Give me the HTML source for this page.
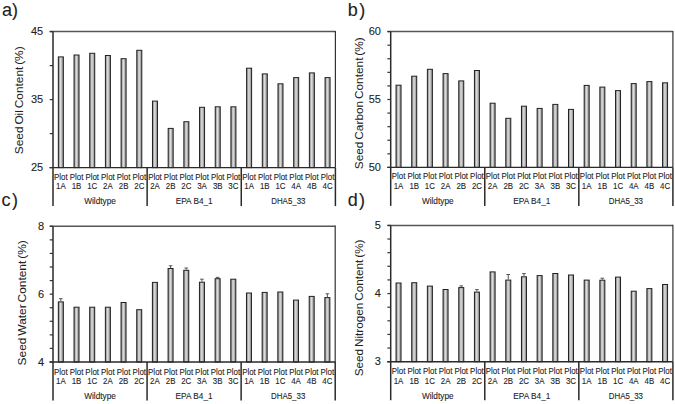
<!DOCTYPE html><html><head><meta charset="utf-8"><style>html,body{margin:0;padding:0;background:#fff;width:675px;height:404px;overflow:hidden}svg{display:block}text{font-family:"Liberation Sans", sans-serif;fill:#222;stroke:#222;stroke-width:0.1px}</style></head><body>
<svg width="675" height="404" viewBox="0 0 675 404">
<defs><linearGradient id="g" x1="0" x2="1" y1="0" y2="0"><stop offset="0" stop-color="#7a7a7a"/><stop offset="0.45" stop-color="#e0e0e0"/><stop offset="1" stop-color="#808080"/></linearGradient></defs>
<rect width="675" height="404" fill="#fff"/>
<rect x="58.34" y="56.90" width="5.00" height="110.70" fill="url(#g)" stroke="#222" stroke-width="1"/>
<rect x="74.03" y="55.00" width="5.00" height="112.60" fill="url(#g)" stroke="#222" stroke-width="1"/>
<rect x="89.72" y="53.30" width="5.00" height="114.30" fill="url(#g)" stroke="#222" stroke-width="1"/>
<rect x="105.41" y="55.50" width="5.00" height="112.10" fill="url(#g)" stroke="#222" stroke-width="1"/>
<rect x="121.10" y="58.70" width="5.00" height="108.90" fill="url(#g)" stroke="#222" stroke-width="1"/>
<rect x="136.79" y="50.30" width="5.00" height="117.30" fill="url(#g)" stroke="#222" stroke-width="1"/>
<rect x="152.48" y="101.10" width="5.00" height="66.50" fill="url(#g)" stroke="#222" stroke-width="1"/>
<rect x="168.17" y="128.40" width="5.00" height="39.20" fill="url(#g)" stroke="#222" stroke-width="1"/>
<rect x="183.86" y="121.70" width="5.00" height="45.90" fill="url(#g)" stroke="#222" stroke-width="1"/>
<rect x="199.54" y="107.30" width="5.00" height="60.30" fill="url(#g)" stroke="#222" stroke-width="1"/>
<rect x="215.23" y="106.80" width="5.00" height="60.80" fill="url(#g)" stroke="#222" stroke-width="1"/>
<rect x="230.92" y="106.80" width="5.00" height="60.80" fill="url(#g)" stroke="#222" stroke-width="1"/>
<rect x="246.61" y="68.20" width="5.00" height="99.40" fill="url(#g)" stroke="#222" stroke-width="1"/>
<rect x="262.30" y="73.90" width="5.00" height="93.70" fill="url(#g)" stroke="#222" stroke-width="1"/>
<rect x="277.99" y="83.80" width="5.00" height="83.80" fill="url(#g)" stroke="#222" stroke-width="1"/>
<rect x="293.68" y="77.60" width="5.00" height="90.00" fill="url(#g)" stroke="#222" stroke-width="1"/>
<rect x="309.37" y="72.90" width="5.00" height="94.70" fill="url(#g)" stroke="#222" stroke-width="1"/>
<rect x="325.06" y="77.60" width="5.00" height="90.00" fill="url(#g)" stroke="#222" stroke-width="1"/>
<path d="M49.70 31.60H335.40" stroke="#555" stroke-width="1.5" fill="none"/>
<path d="M335.40 30.90V167.60" stroke="#333" stroke-width="1.2" fill="none"/>
<path d="M147.13 167.60V206.10" stroke="#2a2a2a" stroke-width="1.5" fill="none"/>
<path d="M241.27 167.60V206.10" stroke="#2a2a2a" stroke-width="1.5" fill="none"/>
<path d="M335.40 167.60V206.10" stroke="#2a2a2a" stroke-width="1.5" fill="none"/>
<path d="M53.00 31.60V206.10" stroke="#2a2a2a" stroke-width="1.5" fill="none"/>
<path d="M49.50 167.60H335.40" stroke="#2a2a2a" stroke-width="1.4" fill="none"/>
<path d="M49.70 31.60H53.00" stroke="#333" stroke-width="1.2" fill="none"/>
<path d="M49.70 65.60H53.00" stroke="#333" stroke-width="1.2" fill="none"/>
<path d="M49.70 99.60H53.00" stroke="#333" stroke-width="1.2" fill="none"/>
<path d="M49.70 133.60H53.00" stroke="#333" stroke-width="1.2" fill="none"/>
<path d="M49.70 167.60H53.00" stroke="#333" stroke-width="1.2" fill="none"/>
<text x="43.20" y="35.20" font-size="11" text-anchor="end">45</text>
<text x="43.20" y="103.20" font-size="11" text-anchor="end">35</text>
<text x="43.20" y="171.20" font-size="11" text-anchor="end">25</text>
<text transform="translate(60.84 179.60) scale(0.880 1)" font-size="9.00" text-anchor="middle">Plot</text>
<text transform="translate(60.84 188.80) scale(0.880 1)" font-size="9.00" text-anchor="middle">1A</text>
<text transform="translate(76.53 179.60) scale(0.880 1)" font-size="9.00" text-anchor="middle">Plot</text>
<text transform="translate(76.53 188.80) scale(0.880 1)" font-size="9.00" text-anchor="middle">1B</text>
<text transform="translate(92.22 179.60) scale(0.880 1)" font-size="9.00" text-anchor="middle">Plot</text>
<text transform="translate(92.22 188.80) scale(0.880 1)" font-size="9.00" text-anchor="middle">1C</text>
<text transform="translate(107.91 179.60) scale(0.880 1)" font-size="9.00" text-anchor="middle">Plot</text>
<text transform="translate(107.91 188.80) scale(0.880 1)" font-size="9.00" text-anchor="middle">2A</text>
<text transform="translate(123.60 179.60) scale(0.880 1)" font-size="9.00" text-anchor="middle">Plot</text>
<text transform="translate(123.60 188.80) scale(0.880 1)" font-size="9.00" text-anchor="middle">2B</text>
<text transform="translate(139.29 179.60) scale(0.880 1)" font-size="9.00" text-anchor="middle">Plot</text>
<text transform="translate(139.29 188.80) scale(0.880 1)" font-size="9.00" text-anchor="middle">2C</text>
<text transform="translate(154.98 179.60) scale(0.880 1)" font-size="9.00" text-anchor="middle">Plot</text>
<text transform="translate(154.98 188.80) scale(0.880 1)" font-size="9.00" text-anchor="middle">2A</text>
<text transform="translate(170.67 179.60) scale(0.880 1)" font-size="9.00" text-anchor="middle">Plot</text>
<text transform="translate(170.67 188.80) scale(0.880 1)" font-size="9.00" text-anchor="middle">2B</text>
<text transform="translate(186.36 179.60) scale(0.880 1)" font-size="9.00" text-anchor="middle">Plot</text>
<text transform="translate(186.36 188.80) scale(0.880 1)" font-size="9.00" text-anchor="middle">2C</text>
<text transform="translate(202.04 179.60) scale(0.880 1)" font-size="9.00" text-anchor="middle">Plot</text>
<text transform="translate(202.04 188.80) scale(0.880 1)" font-size="9.00" text-anchor="middle">3A</text>
<text transform="translate(217.73 179.60) scale(0.880 1)" font-size="9.00" text-anchor="middle">Plot</text>
<text transform="translate(217.73 188.80) scale(0.880 1)" font-size="9.00" text-anchor="middle">3B</text>
<text transform="translate(233.42 179.60) scale(0.880 1)" font-size="9.00" text-anchor="middle">Plot</text>
<text transform="translate(233.42 188.80) scale(0.880 1)" font-size="9.00" text-anchor="middle">3C</text>
<text transform="translate(249.11 179.60) scale(0.880 1)" font-size="9.00" text-anchor="middle">Plot</text>
<text transform="translate(249.11 188.80) scale(0.880 1)" font-size="9.00" text-anchor="middle">1A</text>
<text transform="translate(264.80 179.60) scale(0.880 1)" font-size="9.00" text-anchor="middle">Plot</text>
<text transform="translate(264.80 188.80) scale(0.880 1)" font-size="9.00" text-anchor="middle">1B</text>
<text transform="translate(280.49 179.60) scale(0.880 1)" font-size="9.00" text-anchor="middle">Plot</text>
<text transform="translate(280.49 188.80) scale(0.880 1)" font-size="9.00" text-anchor="middle">1C</text>
<text transform="translate(296.18 179.60) scale(0.880 1)" font-size="9.00" text-anchor="middle">Plot</text>
<text transform="translate(296.18 188.80) scale(0.880 1)" font-size="9.00" text-anchor="middle">4A</text>
<text transform="translate(311.87 179.60) scale(0.880 1)" font-size="9.00" text-anchor="middle">Plot</text>
<text transform="translate(311.87 188.80) scale(0.880 1)" font-size="9.00" text-anchor="middle">4B</text>
<text transform="translate(327.56 179.60) scale(0.880 1)" font-size="9.00" text-anchor="middle">Plot</text>
<text transform="translate(327.56 188.80) scale(0.880 1)" font-size="9.00" text-anchor="middle">4C</text>
<text transform="translate(100.07 204.00) scale(0.920 1)" font-size="9.00" text-anchor="middle">Wildtype</text>
<text transform="translate(194.20 204.00) scale(0.920 1)" font-size="9.00" text-anchor="middle">EPA B4_1</text>
<text transform="translate(288.33 204.00) scale(0.880 1)" font-size="9.00" text-anchor="middle">DHA5_33</text>
<text transform="translate(23.00 100.30) rotate(-90)" font-size="10.30" text-anchor="middle" style="stroke-width:0.05px" word-spacing="-1.20" textLength="107.8" lengthAdjust="spacingAndGlyphs">Seed Oil Content (%)</text>
<text x="2.00" y="15.60" font-size="18">a</text>
<text x="12.00" y="15.60" font-size="18">)</text>
<rect x="396.04" y="85.20" width="5.00" height="82.20" fill="url(#g)" stroke="#222" stroke-width="1"/>
<rect x="411.72" y="76.20" width="5.00" height="91.20" fill="url(#g)" stroke="#222" stroke-width="1"/>
<rect x="427.39" y="69.30" width="5.00" height="98.10" fill="url(#g)" stroke="#222" stroke-width="1"/>
<rect x="443.07" y="73.60" width="5.00" height="93.80" fill="url(#g)" stroke="#222" stroke-width="1"/>
<rect x="458.75" y="80.90" width="5.00" height="86.50" fill="url(#g)" stroke="#222" stroke-width="1"/>
<rect x="474.43" y="70.50" width="5.00" height="96.90" fill="url(#g)" stroke="#222" stroke-width="1"/>
<rect x="490.11" y="103.20" width="5.00" height="64.20" fill="url(#g)" stroke="#222" stroke-width="1"/>
<rect x="505.78" y="118.30" width="5.00" height="49.10" fill="url(#g)" stroke="#222" stroke-width="1"/>
<rect x="521.46" y="106.20" width="5.00" height="61.20" fill="url(#g)" stroke="#222" stroke-width="1"/>
<rect x="537.14" y="108.40" width="5.00" height="59.00" fill="url(#g)" stroke="#222" stroke-width="1"/>
<rect x="552.82" y="104.40" width="5.00" height="63.00" fill="url(#g)" stroke="#222" stroke-width="1"/>
<rect x="568.49" y="109.40" width="5.00" height="58.00" fill="url(#g)" stroke="#222" stroke-width="1"/>
<rect x="584.17" y="85.40" width="5.00" height="82.00" fill="url(#g)" stroke="#222" stroke-width="1"/>
<rect x="599.85" y="87.10" width="5.00" height="80.30" fill="url(#g)" stroke="#222" stroke-width="1"/>
<rect x="615.53" y="90.60" width="5.00" height="76.80" fill="url(#g)" stroke="#222" stroke-width="1"/>
<rect x="631.21" y="83.60" width="5.00" height="83.80" fill="url(#g)" stroke="#222" stroke-width="1"/>
<rect x="646.88" y="81.60" width="5.00" height="85.80" fill="url(#g)" stroke="#222" stroke-width="1"/>
<rect x="662.56" y="82.80" width="5.00" height="84.60" fill="url(#g)" stroke="#222" stroke-width="1"/>
<path d="M387.40 31.60H672.90" stroke="#555" stroke-width="1.5" fill="none"/>
<path d="M672.90 30.90V167.40" stroke="#333" stroke-width="1.2" fill="none"/>
<path d="M484.77 167.40V205.90" stroke="#2a2a2a" stroke-width="1.5" fill="none"/>
<path d="M578.83 167.40V205.90" stroke="#2a2a2a" stroke-width="1.5" fill="none"/>
<path d="M672.90 167.40V205.90" stroke="#2a2a2a" stroke-width="1.5" fill="none"/>
<path d="M390.70 31.60V205.90" stroke="#2a2a2a" stroke-width="1.5" fill="none"/>
<path d="M387.20 167.40H672.90" stroke="#2a2a2a" stroke-width="1.4" fill="none"/>
<path d="M387.40 31.60H390.70" stroke="#333" stroke-width="1.2" fill="none"/>
<path d="M387.40 45.18H390.70" stroke="#333" stroke-width="1.2" fill="none"/>
<path d="M387.40 58.76H390.70" stroke="#333" stroke-width="1.2" fill="none"/>
<path d="M387.40 72.34H390.70" stroke="#333" stroke-width="1.2" fill="none"/>
<path d="M387.40 85.92H390.70" stroke="#333" stroke-width="1.2" fill="none"/>
<path d="M387.40 99.50H390.70" stroke="#333" stroke-width="1.2" fill="none"/>
<path d="M387.40 113.08H390.70" stroke="#333" stroke-width="1.2" fill="none"/>
<path d="M387.40 126.66H390.70" stroke="#333" stroke-width="1.2" fill="none"/>
<path d="M387.40 140.24H390.70" stroke="#333" stroke-width="1.2" fill="none"/>
<path d="M387.40 153.82H390.70" stroke="#333" stroke-width="1.2" fill="none"/>
<path d="M387.40 167.40H390.70" stroke="#333" stroke-width="1.2" fill="none"/>
<text x="380.90" y="35.20" font-size="11" text-anchor="end">60</text>
<text x="380.90" y="103.10" font-size="11" text-anchor="end">55</text>
<text x="380.90" y="171.00" font-size="11" text-anchor="end">50</text>
<text transform="translate(398.54 179.40) scale(0.880 1)" font-size="9.00" text-anchor="middle">Plot</text>
<text transform="translate(398.54 188.60) scale(0.880 1)" font-size="9.00" text-anchor="middle">1A</text>
<text transform="translate(414.22 179.40) scale(0.880 1)" font-size="9.00" text-anchor="middle">Plot</text>
<text transform="translate(414.22 188.60) scale(0.880 1)" font-size="9.00" text-anchor="middle">1B</text>
<text transform="translate(429.89 179.40) scale(0.880 1)" font-size="9.00" text-anchor="middle">Plot</text>
<text transform="translate(429.89 188.60) scale(0.880 1)" font-size="9.00" text-anchor="middle">1C</text>
<text transform="translate(445.57 179.40) scale(0.880 1)" font-size="9.00" text-anchor="middle">Plot</text>
<text transform="translate(445.57 188.60) scale(0.880 1)" font-size="9.00" text-anchor="middle">2A</text>
<text transform="translate(461.25 179.40) scale(0.880 1)" font-size="9.00" text-anchor="middle">Plot</text>
<text transform="translate(461.25 188.60) scale(0.880 1)" font-size="9.00" text-anchor="middle">2B</text>
<text transform="translate(476.93 179.40) scale(0.880 1)" font-size="9.00" text-anchor="middle">Plot</text>
<text transform="translate(476.93 188.60) scale(0.880 1)" font-size="9.00" text-anchor="middle">2C</text>
<text transform="translate(492.61 179.40) scale(0.880 1)" font-size="9.00" text-anchor="middle">Plot</text>
<text transform="translate(492.61 188.60) scale(0.880 1)" font-size="9.00" text-anchor="middle">2A</text>
<text transform="translate(508.28 179.40) scale(0.880 1)" font-size="9.00" text-anchor="middle">Plot</text>
<text transform="translate(508.28 188.60) scale(0.880 1)" font-size="9.00" text-anchor="middle">2B</text>
<text transform="translate(523.96 179.40) scale(0.880 1)" font-size="9.00" text-anchor="middle">Plot</text>
<text transform="translate(523.96 188.60) scale(0.880 1)" font-size="9.00" text-anchor="middle">2C</text>
<text transform="translate(539.64 179.40) scale(0.880 1)" font-size="9.00" text-anchor="middle">Plot</text>
<text transform="translate(539.64 188.60) scale(0.880 1)" font-size="9.00" text-anchor="middle">3A</text>
<text transform="translate(555.32 179.40) scale(0.880 1)" font-size="9.00" text-anchor="middle">Plot</text>
<text transform="translate(555.32 188.60) scale(0.880 1)" font-size="9.00" text-anchor="middle">3B</text>
<text transform="translate(570.99 179.40) scale(0.880 1)" font-size="9.00" text-anchor="middle">Plot</text>
<text transform="translate(570.99 188.60) scale(0.880 1)" font-size="9.00" text-anchor="middle">3C</text>
<text transform="translate(586.67 179.40) scale(0.880 1)" font-size="9.00" text-anchor="middle">Plot</text>
<text transform="translate(586.67 188.60) scale(0.880 1)" font-size="9.00" text-anchor="middle">1A</text>
<text transform="translate(602.35 179.40) scale(0.880 1)" font-size="9.00" text-anchor="middle">Plot</text>
<text transform="translate(602.35 188.60) scale(0.880 1)" font-size="9.00" text-anchor="middle">1B</text>
<text transform="translate(618.03 179.40) scale(0.880 1)" font-size="9.00" text-anchor="middle">Plot</text>
<text transform="translate(618.03 188.60) scale(0.880 1)" font-size="9.00" text-anchor="middle">1C</text>
<text transform="translate(633.71 179.40) scale(0.880 1)" font-size="9.00" text-anchor="middle">Plot</text>
<text transform="translate(633.71 188.60) scale(0.880 1)" font-size="9.00" text-anchor="middle">4A</text>
<text transform="translate(649.38 179.40) scale(0.880 1)" font-size="9.00" text-anchor="middle">Plot</text>
<text transform="translate(649.38 188.60) scale(0.880 1)" font-size="9.00" text-anchor="middle">4B</text>
<text transform="translate(665.06 179.40) scale(0.880 1)" font-size="9.00" text-anchor="middle">Plot</text>
<text transform="translate(665.06 188.60) scale(0.880 1)" font-size="9.00" text-anchor="middle">4C</text>
<text transform="translate(437.73 203.80) scale(0.920 1)" font-size="9.00" text-anchor="middle">Wildtype</text>
<text transform="translate(531.80 203.80) scale(0.920 1)" font-size="9.00" text-anchor="middle">EPA B4_1</text>
<text transform="translate(625.87 203.80) scale(0.880 1)" font-size="9.00" text-anchor="middle">DHA5_33</text>
<text transform="translate(363.00 103.25) rotate(-90)" font-size="10.30" text-anchor="middle" style="stroke-width:0.05px" word-spacing="-1.20" textLength="131.9" lengthAdjust="spacingAndGlyphs">Seed Carbon Content (%)</text>
<text x="347.70" y="15.60" font-size="18">b</text>
<text x="359.20" y="15.60" font-size="18">)</text>
<rect x="58.34" y="301.90" width="5.00" height="60.10" fill="url(#g)" stroke="#222" stroke-width="1"/>
<path d="M59.04 298.70H62.64M60.84 298.70V301.40" stroke="#555" stroke-width="1" fill="none"/>
<rect x="74.02" y="307.20" width="5.00" height="54.80" fill="url(#g)" stroke="#222" stroke-width="1"/>
<rect x="89.69" y="307.20" width="5.00" height="54.80" fill="url(#g)" stroke="#222" stroke-width="1"/>
<rect x="105.37" y="307.20" width="5.00" height="54.80" fill="url(#g)" stroke="#222" stroke-width="1"/>
<rect x="121.05" y="302.50" width="5.00" height="59.50" fill="url(#g)" stroke="#222" stroke-width="1"/>
<rect x="136.73" y="309.70" width="5.00" height="52.30" fill="url(#g)" stroke="#222" stroke-width="1"/>
<rect x="152.41" y="282.40" width="5.00" height="79.60" fill="url(#g)" stroke="#222" stroke-width="1"/>
<rect x="168.08" y="268.50" width="5.00" height="93.50" fill="url(#g)" stroke="#222" stroke-width="1"/>
<path d="M168.78 265.80H172.38M170.58 265.80V268.00" stroke="#555" stroke-width="1" fill="none"/>
<rect x="183.76" y="270.30" width="5.00" height="91.70" fill="url(#g)" stroke="#222" stroke-width="1"/>
<path d="M184.46 268.00H188.06M186.26 268.00V269.80" stroke="#555" stroke-width="1" fill="none"/>
<rect x="199.44" y="282.20" width="5.00" height="79.80" fill="url(#g)" stroke="#222" stroke-width="1"/>
<path d="M200.14 279.20H203.74M201.94 279.20V281.70" stroke="#555" stroke-width="1" fill="none"/>
<rect x="215.12" y="278.70" width="5.00" height="83.30" fill="url(#g)" stroke="#222" stroke-width="1"/>
<path d="M215.82 277.40H219.42M217.62 277.40V278.20" stroke="#555" stroke-width="1" fill="none"/>
<rect x="230.79" y="279.20" width="5.00" height="82.80" fill="url(#g)" stroke="#222" stroke-width="1"/>
<rect x="246.47" y="293.00" width="5.00" height="69.00" fill="url(#g)" stroke="#222" stroke-width="1"/>
<rect x="262.15" y="292.40" width="5.00" height="69.60" fill="url(#g)" stroke="#222" stroke-width="1"/>
<rect x="277.83" y="292.00" width="5.00" height="70.00" fill="url(#g)" stroke="#222" stroke-width="1"/>
<rect x="293.51" y="300.10" width="5.00" height="61.90" fill="url(#g)" stroke="#222" stroke-width="1"/>
<rect x="309.18" y="296.40" width="5.00" height="65.60" fill="url(#g)" stroke="#222" stroke-width="1"/>
<rect x="324.86" y="297.60" width="5.00" height="64.40" fill="url(#g)" stroke="#222" stroke-width="1"/>
<path d="M325.56 293.80H329.16M327.36 293.80V297.10" stroke="#555" stroke-width="1" fill="none"/>
<path d="M49.70 226.30H335.20" stroke="#555" stroke-width="1.5" fill="none"/>
<path d="M335.20 225.60V362.00" stroke="#333" stroke-width="1.2" fill="none"/>
<path d="M147.07 362.00V400.50" stroke="#2a2a2a" stroke-width="1.5" fill="none"/>
<path d="M241.13 362.00V400.50" stroke="#2a2a2a" stroke-width="1.5" fill="none"/>
<path d="M335.20 362.00V400.50" stroke="#2a2a2a" stroke-width="1.5" fill="none"/>
<path d="M53.00 226.30V400.50" stroke="#2a2a2a" stroke-width="1.5" fill="none"/>
<path d="M49.50 362.00H335.20" stroke="#2a2a2a" stroke-width="1.4" fill="none"/>
<path d="M49.70 226.30H53.00" stroke="#333" stroke-width="1.2" fill="none"/>
<path d="M49.70 239.87H53.00" stroke="#333" stroke-width="1.2" fill="none"/>
<path d="M49.70 253.44H53.00" stroke="#333" stroke-width="1.2" fill="none"/>
<path d="M49.70 267.01H53.00" stroke="#333" stroke-width="1.2" fill="none"/>
<path d="M49.70 280.58H53.00" stroke="#333" stroke-width="1.2" fill="none"/>
<path d="M49.70 294.15H53.00" stroke="#333" stroke-width="1.2" fill="none"/>
<path d="M49.70 307.72H53.00" stroke="#333" stroke-width="1.2" fill="none"/>
<path d="M49.70 321.29H53.00" stroke="#333" stroke-width="1.2" fill="none"/>
<path d="M49.70 334.86H53.00" stroke="#333" stroke-width="1.2" fill="none"/>
<path d="M49.70 348.43H53.00" stroke="#333" stroke-width="1.2" fill="none"/>
<path d="M49.70 362.00H53.00" stroke="#333" stroke-width="1.2" fill="none"/>
<text x="44.00" y="229.90" font-size="11" text-anchor="end">8</text>
<text x="44.00" y="297.75" font-size="11" text-anchor="end">6</text>
<text x="44.00" y="365.60" font-size="11" text-anchor="end">4</text>
<text transform="translate(60.84 374.60) scale(0.880 1)" font-size="9.00" text-anchor="middle">Plot</text>
<text transform="translate(60.84 383.80) scale(0.880 1)" font-size="9.00" text-anchor="middle">1A</text>
<text transform="translate(76.52 374.60) scale(0.880 1)" font-size="9.00" text-anchor="middle">Plot</text>
<text transform="translate(76.52 383.80) scale(0.880 1)" font-size="9.00" text-anchor="middle">1B</text>
<text transform="translate(92.19 374.60) scale(0.880 1)" font-size="9.00" text-anchor="middle">Plot</text>
<text transform="translate(92.19 383.80) scale(0.880 1)" font-size="9.00" text-anchor="middle">1C</text>
<text transform="translate(107.87 374.60) scale(0.880 1)" font-size="9.00" text-anchor="middle">Plot</text>
<text transform="translate(107.87 383.80) scale(0.880 1)" font-size="9.00" text-anchor="middle">2A</text>
<text transform="translate(123.55 374.60) scale(0.880 1)" font-size="9.00" text-anchor="middle">Plot</text>
<text transform="translate(123.55 383.80) scale(0.880 1)" font-size="9.00" text-anchor="middle">2B</text>
<text transform="translate(139.23 374.60) scale(0.880 1)" font-size="9.00" text-anchor="middle">Plot</text>
<text transform="translate(139.23 383.80) scale(0.880 1)" font-size="9.00" text-anchor="middle">2C</text>
<text transform="translate(154.91 374.60) scale(0.880 1)" font-size="9.00" text-anchor="middle">Plot</text>
<text transform="translate(154.91 383.80) scale(0.880 1)" font-size="9.00" text-anchor="middle">2A</text>
<text transform="translate(170.58 374.60) scale(0.880 1)" font-size="9.00" text-anchor="middle">Plot</text>
<text transform="translate(170.58 383.80) scale(0.880 1)" font-size="9.00" text-anchor="middle">2B</text>
<text transform="translate(186.26 374.60) scale(0.880 1)" font-size="9.00" text-anchor="middle">Plot</text>
<text transform="translate(186.26 383.80) scale(0.880 1)" font-size="9.00" text-anchor="middle">2C</text>
<text transform="translate(201.94 374.60) scale(0.880 1)" font-size="9.00" text-anchor="middle">Plot</text>
<text transform="translate(201.94 383.80) scale(0.880 1)" font-size="9.00" text-anchor="middle">3A</text>
<text transform="translate(217.62 374.60) scale(0.880 1)" font-size="9.00" text-anchor="middle">Plot</text>
<text transform="translate(217.62 383.80) scale(0.880 1)" font-size="9.00" text-anchor="middle">3B</text>
<text transform="translate(233.29 374.60) scale(0.880 1)" font-size="9.00" text-anchor="middle">Plot</text>
<text transform="translate(233.29 383.80) scale(0.880 1)" font-size="9.00" text-anchor="middle">3C</text>
<text transform="translate(248.97 374.60) scale(0.880 1)" font-size="9.00" text-anchor="middle">Plot</text>
<text transform="translate(248.97 383.80) scale(0.880 1)" font-size="9.00" text-anchor="middle">1A</text>
<text transform="translate(264.65 374.60) scale(0.880 1)" font-size="9.00" text-anchor="middle">Plot</text>
<text transform="translate(264.65 383.80) scale(0.880 1)" font-size="9.00" text-anchor="middle">1B</text>
<text transform="translate(280.33 374.60) scale(0.880 1)" font-size="9.00" text-anchor="middle">Plot</text>
<text transform="translate(280.33 383.80) scale(0.880 1)" font-size="9.00" text-anchor="middle">1C</text>
<text transform="translate(296.01 374.60) scale(0.880 1)" font-size="9.00" text-anchor="middle">Plot</text>
<text transform="translate(296.01 383.80) scale(0.880 1)" font-size="9.00" text-anchor="middle">4A</text>
<text transform="translate(311.68 374.60) scale(0.880 1)" font-size="9.00" text-anchor="middle">Plot</text>
<text transform="translate(311.68 383.80) scale(0.880 1)" font-size="9.00" text-anchor="middle">4B</text>
<text transform="translate(327.36 374.60) scale(0.880 1)" font-size="9.00" text-anchor="middle">Plot</text>
<text transform="translate(327.36 383.80) scale(0.880 1)" font-size="9.00" text-anchor="middle">4C</text>
<text transform="translate(100.03 399.00) scale(0.920 1)" font-size="9.00" text-anchor="middle">Wildtype</text>
<text transform="translate(194.10 399.00) scale(0.920 1)" font-size="9.00" text-anchor="middle">EPA B4_1</text>
<text transform="translate(288.17 399.00) scale(0.880 1)" font-size="9.00" text-anchor="middle">DHA5_33</text>
<text transform="translate(26.30 302.85) rotate(-90)" font-size="10.30" text-anchor="middle" style="stroke-width:0.05px" word-spacing="-1.20" textLength="125.1" lengthAdjust="spacingAndGlyphs">Seed Water Content (%)</text>
<text x="1.50" y="205.80" font-size="18">c</text>
<text x="12.00" y="205.80" font-size="18">)</text>
<rect x="396.04" y="283.00" width="5.00" height="78.70" fill="url(#g)" stroke="#222" stroke-width="1"/>
<rect x="411.72" y="282.70" width="5.00" height="79.00" fill="url(#g)" stroke="#222" stroke-width="1"/>
<rect x="427.39" y="286.10" width="5.00" height="75.60" fill="url(#g)" stroke="#222" stroke-width="1"/>
<rect x="443.07" y="289.50" width="5.00" height="72.20" fill="url(#g)" stroke="#222" stroke-width="1"/>
<rect x="458.75" y="287.60" width="5.00" height="74.10" fill="url(#g)" stroke="#222" stroke-width="1"/>
<path d="M459.45 285.90H463.05M461.25 285.90V287.10" stroke="#555" stroke-width="1" fill="none"/>
<rect x="474.43" y="292.10" width="5.00" height="69.60" fill="url(#g)" stroke="#222" stroke-width="1"/>
<path d="M475.13 289.60H478.73M476.93 289.60V291.60" stroke="#555" stroke-width="1" fill="none"/>
<rect x="490.11" y="271.90" width="5.00" height="89.80" fill="url(#g)" stroke="#222" stroke-width="1"/>
<rect x="505.78" y="280.10" width="5.00" height="81.60" fill="url(#g)" stroke="#222" stroke-width="1"/>
<path d="M506.48 274.50H510.08M508.28 274.50V279.60" stroke="#555" stroke-width="1" fill="none"/>
<rect x="521.46" y="276.80" width="5.00" height="84.90" fill="url(#g)" stroke="#222" stroke-width="1"/>
<path d="M522.16 273.60H525.76M523.96 273.60V276.30" stroke="#555" stroke-width="1" fill="none"/>
<rect x="537.14" y="275.60" width="5.00" height="86.10" fill="url(#g)" stroke="#222" stroke-width="1"/>
<rect x="552.82" y="273.50" width="5.00" height="88.20" fill="url(#g)" stroke="#222" stroke-width="1"/>
<rect x="568.49" y="275.00" width="5.00" height="86.70" fill="url(#g)" stroke="#222" stroke-width="1"/>
<rect x="584.17" y="280.10" width="5.00" height="81.60" fill="url(#g)" stroke="#222" stroke-width="1"/>
<rect x="599.85" y="280.20" width="5.00" height="81.50" fill="url(#g)" stroke="#222" stroke-width="1"/>
<path d="M600.55 278.20H604.15M602.35 278.20V279.70" stroke="#555" stroke-width="1" fill="none"/>
<rect x="615.53" y="277.10" width="5.00" height="84.60" fill="url(#g)" stroke="#222" stroke-width="1"/>
<rect x="631.21" y="291.20" width="5.00" height="70.50" fill="url(#g)" stroke="#222" stroke-width="1"/>
<rect x="646.88" y="288.60" width="5.00" height="73.10" fill="url(#g)" stroke="#222" stroke-width="1"/>
<rect x="662.56" y="284.50" width="5.00" height="77.20" fill="url(#g)" stroke="#222" stroke-width="1"/>
<path d="M387.40 225.40H672.90" stroke="#555" stroke-width="1.5" fill="none"/>
<path d="M672.90 224.70V361.70" stroke="#333" stroke-width="1.2" fill="none"/>
<path d="M484.77 361.70V400.20" stroke="#2a2a2a" stroke-width="1.5" fill="none"/>
<path d="M578.83 361.70V400.20" stroke="#2a2a2a" stroke-width="1.5" fill="none"/>
<path d="M672.90 361.70V400.20" stroke="#2a2a2a" stroke-width="1.5" fill="none"/>
<path d="M390.70 225.40V400.20" stroke="#2a2a2a" stroke-width="1.5" fill="none"/>
<path d="M387.20 361.70H672.90" stroke="#2a2a2a" stroke-width="1.4" fill="none"/>
<path d="M387.40 225.40H390.70" stroke="#333" stroke-width="1.2" fill="none"/>
<path d="M387.40 239.03H390.70" stroke="#333" stroke-width="1.2" fill="none"/>
<path d="M387.40 252.66H390.70" stroke="#333" stroke-width="1.2" fill="none"/>
<path d="M387.40 266.29H390.70" stroke="#333" stroke-width="1.2" fill="none"/>
<path d="M387.40 279.92H390.70" stroke="#333" stroke-width="1.2" fill="none"/>
<path d="M387.40 293.55H390.70" stroke="#333" stroke-width="1.2" fill="none"/>
<path d="M387.40 307.18H390.70" stroke="#333" stroke-width="1.2" fill="none"/>
<path d="M387.40 320.81H390.70" stroke="#333" stroke-width="1.2" fill="none"/>
<path d="M387.40 334.44H390.70" stroke="#333" stroke-width="1.2" fill="none"/>
<path d="M387.40 348.07H390.70" stroke="#333" stroke-width="1.2" fill="none"/>
<path d="M387.40 361.70H390.70" stroke="#333" stroke-width="1.2" fill="none"/>
<text x="380.90" y="229.00" font-size="11" text-anchor="end">5</text>
<text x="380.90" y="297.15" font-size="11" text-anchor="end">4</text>
<text x="380.90" y="365.30" font-size="11" text-anchor="end">3</text>
<text transform="translate(398.54 374.30) scale(0.880 1)" font-size="9.00" text-anchor="middle">Plot</text>
<text transform="translate(398.54 383.50) scale(0.880 1)" font-size="9.00" text-anchor="middle">1A</text>
<text transform="translate(414.22 374.30) scale(0.880 1)" font-size="9.00" text-anchor="middle">Plot</text>
<text transform="translate(414.22 383.50) scale(0.880 1)" font-size="9.00" text-anchor="middle">1B</text>
<text transform="translate(429.89 374.30) scale(0.880 1)" font-size="9.00" text-anchor="middle">Plot</text>
<text transform="translate(429.89 383.50) scale(0.880 1)" font-size="9.00" text-anchor="middle">1C</text>
<text transform="translate(445.57 374.30) scale(0.880 1)" font-size="9.00" text-anchor="middle">Plot</text>
<text transform="translate(445.57 383.50) scale(0.880 1)" font-size="9.00" text-anchor="middle">2A</text>
<text transform="translate(461.25 374.30) scale(0.880 1)" font-size="9.00" text-anchor="middle">Plot</text>
<text transform="translate(461.25 383.50) scale(0.880 1)" font-size="9.00" text-anchor="middle">2B</text>
<text transform="translate(476.93 374.30) scale(0.880 1)" font-size="9.00" text-anchor="middle">Plot</text>
<text transform="translate(476.93 383.50) scale(0.880 1)" font-size="9.00" text-anchor="middle">2C</text>
<text transform="translate(492.61 374.30) scale(0.880 1)" font-size="9.00" text-anchor="middle">Plot</text>
<text transform="translate(492.61 383.50) scale(0.880 1)" font-size="9.00" text-anchor="middle">2A</text>
<text transform="translate(508.28 374.30) scale(0.880 1)" font-size="9.00" text-anchor="middle">Plot</text>
<text transform="translate(508.28 383.50) scale(0.880 1)" font-size="9.00" text-anchor="middle">2B</text>
<text transform="translate(523.96 374.30) scale(0.880 1)" font-size="9.00" text-anchor="middle">Plot</text>
<text transform="translate(523.96 383.50) scale(0.880 1)" font-size="9.00" text-anchor="middle">2C</text>
<text transform="translate(539.64 374.30) scale(0.880 1)" font-size="9.00" text-anchor="middle">Plot</text>
<text transform="translate(539.64 383.50) scale(0.880 1)" font-size="9.00" text-anchor="middle">3A</text>
<text transform="translate(555.32 374.30) scale(0.880 1)" font-size="9.00" text-anchor="middle">Plot</text>
<text transform="translate(555.32 383.50) scale(0.880 1)" font-size="9.00" text-anchor="middle">3B</text>
<text transform="translate(570.99 374.30) scale(0.880 1)" font-size="9.00" text-anchor="middle">Plot</text>
<text transform="translate(570.99 383.50) scale(0.880 1)" font-size="9.00" text-anchor="middle">3C</text>
<text transform="translate(586.67 374.30) scale(0.880 1)" font-size="9.00" text-anchor="middle">Plot</text>
<text transform="translate(586.67 383.50) scale(0.880 1)" font-size="9.00" text-anchor="middle">1A</text>
<text transform="translate(602.35 374.30) scale(0.880 1)" font-size="9.00" text-anchor="middle">Plot</text>
<text transform="translate(602.35 383.50) scale(0.880 1)" font-size="9.00" text-anchor="middle">1B</text>
<text transform="translate(618.03 374.30) scale(0.880 1)" font-size="9.00" text-anchor="middle">Plot</text>
<text transform="translate(618.03 383.50) scale(0.880 1)" font-size="9.00" text-anchor="middle">1C</text>
<text transform="translate(633.71 374.30) scale(0.880 1)" font-size="9.00" text-anchor="middle">Plot</text>
<text transform="translate(633.71 383.50) scale(0.880 1)" font-size="9.00" text-anchor="middle">4A</text>
<text transform="translate(649.38 374.30) scale(0.880 1)" font-size="9.00" text-anchor="middle">Plot</text>
<text transform="translate(649.38 383.50) scale(0.880 1)" font-size="9.00" text-anchor="middle">4B</text>
<text transform="translate(665.06 374.30) scale(0.880 1)" font-size="9.00" text-anchor="middle">Plot</text>
<text transform="translate(665.06 383.50) scale(0.880 1)" font-size="9.00" text-anchor="middle">4C</text>
<text transform="translate(437.73 398.70) scale(0.920 1)" font-size="9.00" text-anchor="middle">Wildtype</text>
<text transform="translate(531.80 398.70) scale(0.920 1)" font-size="9.00" text-anchor="middle">EPA B4_1</text>
<text transform="translate(625.87 398.70) scale(0.880 1)" font-size="9.00" text-anchor="middle">DHA5_33</text>
<text transform="translate(363.00 307.90) rotate(-90)" font-size="10.30" text-anchor="middle" style="stroke-width:0.05px" word-spacing="-1.20" textLength="136.8" lengthAdjust="spacingAndGlyphs">Seed Nitrogen Content (%)</text>
<text x="347.70" y="205.80" font-size="18">d</text>
<text x="359.00" y="205.80" font-size="18">)</text>
</svg></body></html>
